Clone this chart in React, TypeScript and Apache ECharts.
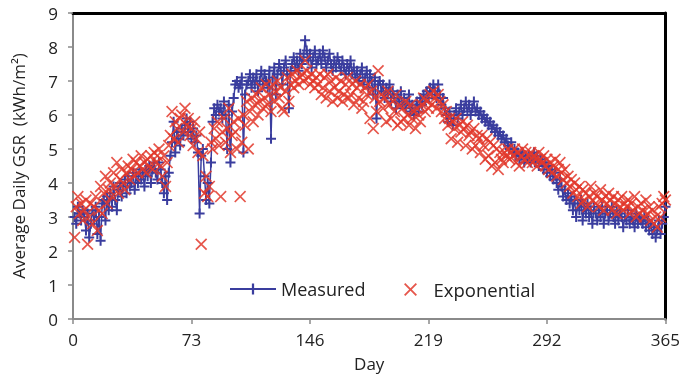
import React, { useEffect, useRef } from "react";
import * as echarts from "echarts";

const xTicks = [0, 73, 146, 219, 292, 365];
const seriesNames = ["Measured", "Exponential"];

const measured = [
  3.0, 2.8, 3.3, 3.1, 2.9, 3.2, 3.0, 2.6, 3.1, 2.4,
  2.8, 3.2, 2.9, 3.3, 2.5, 3.0, 2.3, 3.4, 3.5, 2.9,
  3.6, 3.2, 3.7, 3.3, 3.9, 3.5, 3.2, 3.8, 4.0, 3.6,
  3.9, 4.1, 3.7, 4.2, 3.9, 4.0, 4.3, 3.8, 4.2, 4.0,
  4.4, 4.1, 4.3, 3.9, 4.4, 4.2, 4.5, 4.0, 4.4, 4.6,
  4.3, 4.1, 4.6, 4.4, 4.0, 3.7, 4.2, 3.5, 4.3, 4.8,
  5.2, 5.8, 4.9, 5.5, 5.3, 5.1, 5.6, 5.4, 5.7, 5.9,
  5.5, 5.8, 5.3, 5.6, 5.2, 5.4, 4.9, 3.1, 4.8, 5.0,
  4.2, 3.5, 4.0, 3.4, 4.6, 5.8, 6.2, 6.0, 6.3, 6.1,
  6.2, 5.9, 6.4, 6.0, 5.0, 6.3, 4.6, 6.1, 6.5, 6.9,
  7.0, 6.8, 6.9, 7.1, 4.9, 6.6, 6.9, 7.0, 7.2, 6.8,
  7.1, 6.9, 7.2, 6.7, 7.0, 7.3, 6.9, 7.2, 7.0, 6.8,
  7.3, 5.3, 7.1, 7.4, 6.6, 7.2, 7.5, 7.3, 6.9, 7.4,
  7.6, 7.2, 6.2, 7.3, 7.5, 7.7, 7.4, 7.6, 7.3, 7.8,
  7.5, 7.7, 8.2, 7.9, 7.6, 7.8, 7.4, 7.7, 7.9, 7.5,
  7.6, 7.8, 7.5, 7.9, 7.7, 7.4, 7.6, 7.8, 7.5, 7.3,
  7.6, 7.4, 7.7, 7.5, 7.3, 7.6, 7.4, 7.2, 7.5, 7.3,
  7.6, 7.2, 7.4, 7.1, 7.3, 7.0, 7.2, 7.4, 6.9, 7.1,
  7.3, 6.8, 7.2, 7.0, 6.6, 7.1, 5.9, 6.9, 7.0, 6.7,
  6.9, 6.5, 6.8, 6.6, 6.9, 6.4, 6.7, 6.5, 6.2, 6.6,
  6.4, 6.7, 6.3, 6.5, 6.2, 6.4, 6.6, 6.1, 6.3, 6.0,
  6.2, 6.4, 6.1, 6.5, 6.3, 6.6, 6.4, 6.7, 6.5, 6.8,
  6.6, 6.9, 6.7, 6.5, 6.9, 6.6, 6.3, 6.5, 6.2, 6.0,
  5.8, 6.1, 5.9, 5.7, 6.0, 6.2, 5.9, 6.1, 6.3, 6.0,
  6.2, 6.4, 6.1, 6.3, 6.0, 6.2, 6.4, 6.1, 6.2, 6.0,
  6.1, 5.9, 6.0, 5.8, 5.9, 5.7, 5.8, 5.6, 5.7, 5.5,
  5.6, 5.4, 5.5, 5.3, 5.4, 5.2, 5.3, 5.1, 5.0, 5.2,
  4.9, 5.0, 4.8, 4.9, 4.7, 4.8, 4.9, 4.6, 4.8, 4.7,
  4.8, 4.6, 4.7, 4.9, 4.6, 4.8, 4.5, 4.7, 4.6, 4.4,
  4.6, 4.3, 4.5, 4.2, 4.4, 4.1, 4.3, 4.0, 3.8, 4.1,
  3.9, 3.6, 3.8, 3.5, 3.7, 3.4, 3.6, 3.2, 3.5, 3.0,
  3.4, 3.2, 3.5, 2.9, 3.3, 3.1, 3.4, 3.0, 3.2, 2.8,
  3.3, 3.1, 2.9, 3.2, 3.0, 3.3, 2.8, 3.1, 3.2, 2.9,
  3.1, 3.3, 3.0, 2.8, 3.2, 2.9, 3.1, 3.0, 2.7, 3.0,
  2.9, 3.2, 2.8, 3.0, 2.9, 2.7, 3.1, 2.8, 3.0, 2.9,
  2.8, 3.0, 2.7, 2.9, 2.6, 2.8, 2.5, 2.7, 2.4, 2.6,
  2.9, 2.5, 2.8, 3.0, 3.3,
];

const exponential = [
  2.4, 3.3, 3.6, 3.1, 3.4, 2.9, 3.2, 3.5, 2.2, 3.0,
  3.4, 2.8, 3.3, 3.6, 2.6, 3.2, 3.9, 3.1, 3.7, 4.2,
  3.4, 3.8, 4.0, 3.6, 4.3, 3.9, 4.6, 3.7, 4.1, 4.4,
  4.0, 3.8, 4.3, 4.5, 4.1, 4.4, 4.7, 4.2, 4.6, 4.3,
  4.5, 4.8, 4.4, 4.6, 4.3, 4.7, 4.5, 4.8, 4.4, 4.9,
  4.6, 4.8, 5.0, 4.5, 4.2, 4.8, 3.9, 4.6, 5.1, 5.4,
  6.1, 5.3, 5.8, 5.6, 5.2, 5.9, 6.0, 5.5, 6.2, 5.7,
  5.9, 5.4, 5.6, 5.1, 5.8, 5.3, 4.9, 5.5, 2.2, 4.8,
  3.7, 4.2, 3.6, 3.9, 5.2, 5.0, 5.6, 5.3, 5.8, 5.1,
  3.6, 5.5, 5.9, 5.2, 5.6, 6.2, 4.9, 5.4, 5.8, 5.5,
  5.0, 5.9, 3.6, 5.2, 6.0, 5.7, 6.4, 5.0, 6.1, 6.5,
  5.8, 6.3, 6.6, 6.0, 6.4, 6.8, 6.2, 6.5, 6.9, 6.3,
  6.6, 6.1, 6.9, 6.4, 6.7, 7.0, 6.5, 6.8, 6.2, 6.1,
  6.7, 7.1, 6.4, 6.9, 7.2, 6.8, 7.0, 7.3, 6.9, 7.1,
  7.2, 7.0, 7.6, 7.3, 7.1, 6.9, 7.2, 7.0, 6.8, 7.1,
  6.9, 7.2, 6.6, 6.8, 7.1, 6.5, 7.2, 6.7, 7.0, 6.4,
  6.8, 7.1, 6.5, 6.7, 7.0, 6.4, 6.6, 6.9, 7.1, 6.5,
  6.6, 6.9, 6.3, 7.0, 6.8, 6.5, 6.9, 6.2, 6.4, 6.8,
  6.6, 6.9, 5.9, 6.7, 5.6, 6.5, 6.1, 7.3, 6.4, 6.6,
  6.2, 6.5, 5.8, 6.7, 6.3, 5.9, 6.4, 6.1, 6.6, 5.7,
  6.3, 5.8, 6.2, 5.9, 6.4, 6.0, 5.7, 6.3, 5.9, 6.1,
  5.6, 6.2, 6.0, 5.8, 6.3, 6.5, 6.1, 6.4, 6.2, 6.6,
  6.3, 6.7, 6.5, 6.2, 6.6, 6.4, 6.1, 6.3, 5.9, 6.1,
  5.7, 5.9, 5.3, 5.8, 5.6, 5.9, 5.2, 5.7, 5.5, 5.8,
  5.6, 5.1, 5.7, 5.4, 5.5, 5.0, 5.6, 5.1, 5.4, 5.3,
  4.9, 5.4, 5.1, 4.7, 5.3, 4.8, 5.2, 4.5, 5.1, 4.6,
  5.0, 4.4, 4.9, 4.7, 4.6, 4.9, 4.8, 5.0, 4.7, 4.9,
  4.8, 5.0, 4.6, 4.9, 4.5, 4.8, 5.0, 4.7, 4.9, 4.6,
  4.8, 4.9, 4.6, 4.8, 4.7, 4.5, 4.9, 4.7, 4.6, 4.8,
  4.5, 4.7, 4.4, 4.6, 4.3, 4.5, 4.7, 4.2, 4.4, 4.6,
  4.3, 4.1, 4.4, 4.0, 4.2, 3.9, 4.1, 3.7, 4.0, 3.8,
  3.6, 3.9, 3.4, 3.8, 3.5, 3.7, 3.3, 3.6, 3.9, 3.5,
  3.7, 3.4, 3.6, 3.3, 3.8, 3.5, 3.2, 3.6, 3.4, 3.7,
  3.5, 3.2, 3.6, 3.4, 3.1, 3.5, 3.3, 3.6, 3.2, 3.4,
  3.3, 3.5, 3.1, 3.4, 3.2, 3.6, 3.0, 3.3, 3.1, 3.4,
  3.2, 3.0, 3.5, 3.1, 3.3, 2.9, 3.2, 2.8, 3.0, 2.7,
  3.3, 3.0, 3.4, 3.6, 3.5,
];

const BLUE = "#3a3d9e";
const RED = "#e2382b";
const PLUS = "path://M4,0h2v4h4v2h-4v4h-2v-4h-4v-2h4z";
const CROSS = "path://M1,0L5,4L9,0L10,1L6,5L10,9L9,10L5,6L1,10L0,9L4,5L0,1Z";
const FONT = "'Open Sans', sans-serif";

export default function App() {
  const ref = useRef<HTMLDivElement>(null);
  useEffect(() => {
    if (!ref.current) return;
    const chart = echarts.init(ref.current, undefined, { renderer: "svg" });
    const mData = measured.map((v, i) => [i + 1, v]);
    const eData = exponential.map((v, i) => [i + 1, v]);
    chart.setOption({
      animation: false,
      textStyle: { fontFamily: FONT },
      grid: { left: 73, right: 15, top: 13, bottom: 57, containLabel: false },
      legend: [
        {
          data: [seriesNames[0]],
          left: 224,
          top: 275,
          itemWidth: 46,
          itemHeight: 14,
          textStyle: { fontFamily: FONT, fontSize: 18, color: "#222" },
        },
        {
          data: [{ name: seriesNames[1], icon: CROSS }],
          left: 399,
          top: 275,
          itemWidth: 36,
          itemHeight: 13,
          textStyle: { fontFamily: FONT, fontSize: 18.5, color: "#222" },
        },
      ],
      xAxis: [
        {
          type: "value",
          min: xTicks[0],
          max: xTicks[xTicks.length - 1],
          interval: 73,
          name: "Day",
          nameLocation: "middle",
          nameGap: 36,
          nameTextStyle: { fontFamily: FONT, fontSize: 17, color: "#222" },
          axisLine: { show: true, onZero: false, lineStyle: { color: "#8a8a8a", width: 2 } },
          axisTick: { show: true, length: 5, lineStyle: { color: "#8a8a8a", width: 1.5 } },
          axisLabel: { fontFamily: FONT, fontSize: 17, color: "#222", margin: 12 },
          splitLine: { show: false },
        },
        {
          type: "value",
          position: "top",
          min: 0,
          max: 365,
          axisLine: { show: true, onZero: false, lineStyle: { color: "#000", width: 3 } },
          axisTick: { show: false },
          axisLabel: { show: false },
          splitLine: { show: false },
        },
      ],
      yAxis: [
        {
          type: "value",
          min: 0,
          max: 9,
          interval: 1,
          name: "Average Daily GSR  (kWh/m\u00B2)",
          nameLocation: "middle",
          nameGap: 46,
          nameTextStyle: { fontFamily: FONT, fontSize: 17, color: "#222" },
          axisLine: { show: true, onZero: false, lineStyle: { color: "#8a8a8a", width: 2 } },
          axisTick: { show: true, length: 5, lineStyle: { color: "#8a8a8a", width: 1.5 } },
          axisLabel: { fontFamily: FONT, fontSize: 17, color: "#222", margin: 15 },
          splitLine: { show: false },
        },
        {
          type: "value",
          position: "right",
          min: 0,
          max: 9,
          axisLine: { show: true, onZero: false, lineStyle: { color: "#000", width: 3 } },
          axisTick: { show: false },
          axisLabel: { show: false },
          splitLine: { show: false },
        },
      ],
      series: [
        {
          name: seriesNames[0],
          type: "line",
          xAxisIndex: 0,
          yAxisIndex: 0,
          data: mData,
          symbol: PLUS,
          symbolSize: 10,
          showAllSymbol: true,
          lineStyle: { color: BLUE, width: 1.5 },
          itemStyle: { color: BLUE },
          z: 2,
        },
        {
          name: seriesNames[1],
          type: "scatter",
          xAxisIndex: 0,
          yAxisIndex: 0,
          data: eData,
          symbol: CROSS,
          symbolSize: 12,
          itemStyle: { color: RED, opacity: 0.85 },
          z: 3,
        },
      ],
    });
    return () => chart.dispose();
  }, []);
  return (
    <div
      ref={ref}
      style={{ position: "fixed", left: 0, top: 0, width: 683, height: 377 }}
    />
  );
}
